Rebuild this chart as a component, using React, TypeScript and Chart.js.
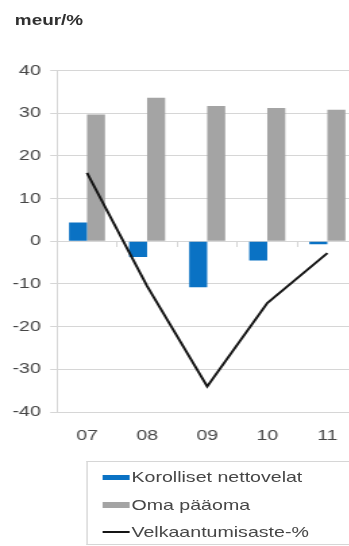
import React, { useEffect, useRef } from "react";
import { Chart, registerables } from "chart.js";

Chart.register(...registerables);

const labels = ["07", "08", "09", "10", "11"];
const korollisetNettovelat = [4.4, -3.7, -10.8, -4.5, -0.7];
const omaPaaoma = [29.7, 33.6, 31.7, 31.2, 30.8];
const velkaantumisaste = [16.0, -10.5, -34.0, -14.5, -2.8];
const yTicks = [-40, -30, -20, -10, 0, 10, 20, 30, 40];

const seriesNames = ["Korolliset nettovelat", "Oma pääoma", "Velkaantumisaste-%"];
const BLUE = "#0a72c4";
const GRAY = "#a4a4a4";
const LINE = "#151515";
const GRID = "#d6d6d6";
const TEXT = "#464646";
const FONT = "'Liberation Sans', Arial, sans-serif";
// the whole figure is drawn narrow and widened horizontally
const STRETCH = 1.35;

export default function App() {
  const ref = useRef<HTMLCanvasElement | null>(null);

  useEffect(() => {
    if (!ref.current) return;
    const chart = new Chart(ref.current, {
      type: "bar",
      data: {
        labels,
        datasets: [
          {
            type: "line",
            label: seriesNames[2],
            data: velkaantumisaste,
            borderColor: LINE,
            borderWidth: 2,
            pointRadius: 0,
            tension: 0,
            fill: false,
            order: 0,
          },
          {
            type: "bar",
            label: seriesNames[0],
            data: korollisetNettovelat,
            backgroundColor: BLUE,
            categoryPercentage: 0.6,
            barPercentage: 1.0,
            order: 1,
          },
          {
            type: "bar",
            label: seriesNames[1],
            data: omaPaaoma,
            backgroundColor: GRAY,
            categoryPercentage: 0.6,
            barPercentage: 1.0,
            order: 1,
          },
        ],
      },
      options: {
        responsive: false,
        animation: false,
        layout: { padding: { top: 70.5, left: 0, right: 0, bottom: 0 } },
        plugins: {
          legend: { display: false },
          title: { display: false },
          tooltip: { enabled: false },
        },
        scales: {
          x: {
            type: "category",
            offset: true,
            grid: { display: false, drawTicks: false, offset: true },
            border: { display: false },
            ticks: {
              color: TEXT,
              font: { family: FONT, size: 14.5 },
              padding: 15,
              maxRotation: 0,
            },
            afterFit: (scale: any) => {
              scale.height = 48;
            },
          },
          // category separators hanging below the zero line
          x2: {
            type: "category",
            axis: "x",
            position: { y: 0 },
            offset: true,
            labels,
            grid: {
              drawOnChartArea: false,
              drawTicks: true,
              tickLength: 5,
              offset: true,
              color: GRID,
            },
            border: { display: true, color: GRID },
            ticks: { display: false },
          },
          y: {
            min: -40,
            max: 40,
            afterBuildTicks: (scale: any) => {
              scale.ticks = yTicks.map((v) => ({ value: v }));
            },
            grid: {
              color: GRID,
              lineWidth: 1,
              drawTicks: true,
              tickLength: 5,
            },
            border: { display: true, color: GRID },
            ticks: {
              color: TEXT,
              font: { family: FONT, size: 14.5 },
              padding: 7,
              callback: (v: any) => String(v),
            },
            afterFit: (scale: any) => {
              scale.width = 42.2;
            },
          },
        },
      },
    });
    return () => chart.destroy();
  }, []);

  const legendItems = [
    { name: seriesNames[0], color: BLUE, h: 5 },
    { name: seriesNames[1], color: GRAY, h: 6 },
    { name: seriesNames[2], color: LINE, h: 2 },
  ];

  return (
    <div
      style={{
        position: "fixed",
        left: 0,
        top: 0,
        width: 349,
        height: 546,
        overflow: "hidden",
        background: "#fff",
      }}
    >
      <div
        style={{
          position: "absolute",
          left: 0,
          top: 0,
          width: 280,
          height: 546,
          transform: `scaleX(${STRETCH})`,
          transformOrigin: "0 0",
          fontFamily: FONT,
          color: TEXT,
        }}
      >
        <div
          style={{
            position: "absolute",
            left: 11,
            top: 11,
            fontWeight: "bold",
            fontSize: 14,
            lineHeight: "18px",
            color: "#303030",
          }}
        >
          meur/%
        </div>
        <canvas
          ref={ref}
          width={265}
          height={460}
          style={{ position: "absolute", left: 0, top: 0, width: 265, height: 460 }}
        />
        <div
          style={{
            position: "absolute",
            left: 64.4,
            top: 461,
            width: 240,
            height: 82,
            borderTop: `1px solid ${GRID}`,
            borderLeft: `1px solid ${GRID}`,
            borderBottom: `1px solid ${GRID}`,
          }}
        >
          {legendItems.map((it, i) => (
            <div
              key={it.name}
              style={{
                position: "absolute",
                left: 11,
                top: 5 + i * 27.5,
                height: 20,
                display: "flex",
                alignItems: "center",
                fontSize: 14.5,
                whiteSpace: "nowrap",
              }}
            >
              <span
                style={{
                  display: "inline-block",
                  width: 20,
                  height: it.h,
                  background: it.color,
                  marginRight: 1,
                }}
              />
              <span>{it.name}</span>
            </div>
          ))}
        </div>
      </div>
    </div>
  );
}
